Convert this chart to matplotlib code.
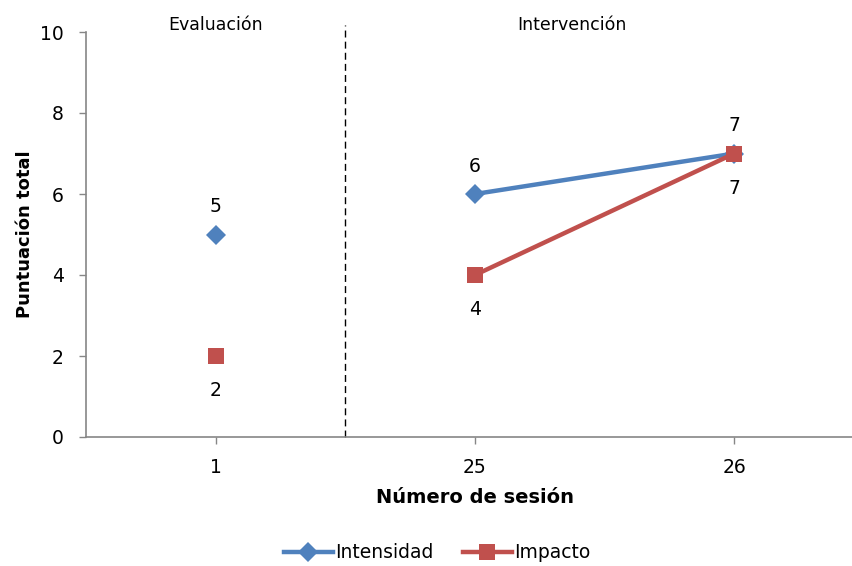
import numpy as np
import matplotlib.pyplot as plt

plt.rcParams['font.family'] = ['DejaVu Sans']

sesiones = ['1', '25', '26']
fase = ['Evaluación', 'Intervención', 'Intervención']
intensidad = [5, 6, 7]
impacto = [2, 4, 7]

azul = '#4F81BD'
rojo = '#C0504D'
gris = '#868686'

fig = plt.figure(figsize=(8.53, 5.66), dpi=100)
ax = fig.add_axes([86 / 853, 129 / 566, 778 / 853, 405 / 566])

x = np.arange(len(sesiones))
fase = np.array(fase)

# cada fase se dibuja por separado para que la linea no cruce el cambio de fase
for f in ['Evaluación', 'Intervención']:
    m = fase == f
    ax.plot(x[m], np.array(intensidad)[m], color=azul, lw=3.2, marker='D',
            ms=10, markeredgewidth=0, zorder=3)
    ax.plot(x[m], np.array(impacto)[m], color=rojo, lw=3.2, marker='s',
            ms=12, markeredgewidth=0, zorder=4)

for xi, v in zip(x, intensidad):
    ax.annotate(str(v), (xi, v), xytext=(0, 20), textcoords='offset points',
                ha='center', va='center', fontsize=13.5)
for xi, v in zip(x, impacto):
    ax.annotate(str(v), (xi, v), xytext=(0, -25), textcoords='offset points',
                ha='center', va='center', fontsize=13.5)

ax.axvline(0.5, color='black', lw=1, ls=(0, (5, 3)), ymax=1.017, clip_on=False)

ax.text(0, 10.17, 'Evaluación', ha='center', va='center', fontsize=12.5)
ax.text(1.375, 10.17, 'Intervención', ha='center', va='center', fontsize=12.5)

ax.set_xlim(-0.5, 2.5)
ax.set_ylim(0, 10)
ax.set_xticks(x)
ax.set_xticklabels(sesiones)
ax.set_yticks(range(0, 11, 2))
ax.tick_params(axis='both', labelsize=13.5, color=gris, length=5, width=1)
ax.tick_params(axis='x', pad=10)
ax.tick_params(axis='y', pad=11)

for s in ['top', 'right']:
    ax.spines[s].set_visible(False)
for s in ['left', 'bottom']:
    ax.spines[s].set_color(gris)
    ax.spines[s].set_linewidth(1.2)

ax.set_xlabel('Número de sesión', fontsize=14, fontweight='bold', labelpad=8)
ax.set_ylabel('Puntuación total', fontsize=13, fontweight='bold', labelpad=4)

h1 = plt.Line2D([], [], color=azul, lw=3.2, marker='D', ms=10, markeredgewidth=0)
h2 = plt.Line2D([], [], color=rojo, lw=3.2, marker='s', ms=12, markeredgewidth=0)
fig.legend([h1, h2], ['Intensidad', 'Impacto'], loc='center',
           bbox_to_anchor=(437 / 853, 1 - 553 / 566), ncol=2, frameon=False,
           fontsize=13.5, handlelength=2.6, handletextpad=0.1, columnspacing=1.6)

fig.savefig('out.png', dpi=100)
